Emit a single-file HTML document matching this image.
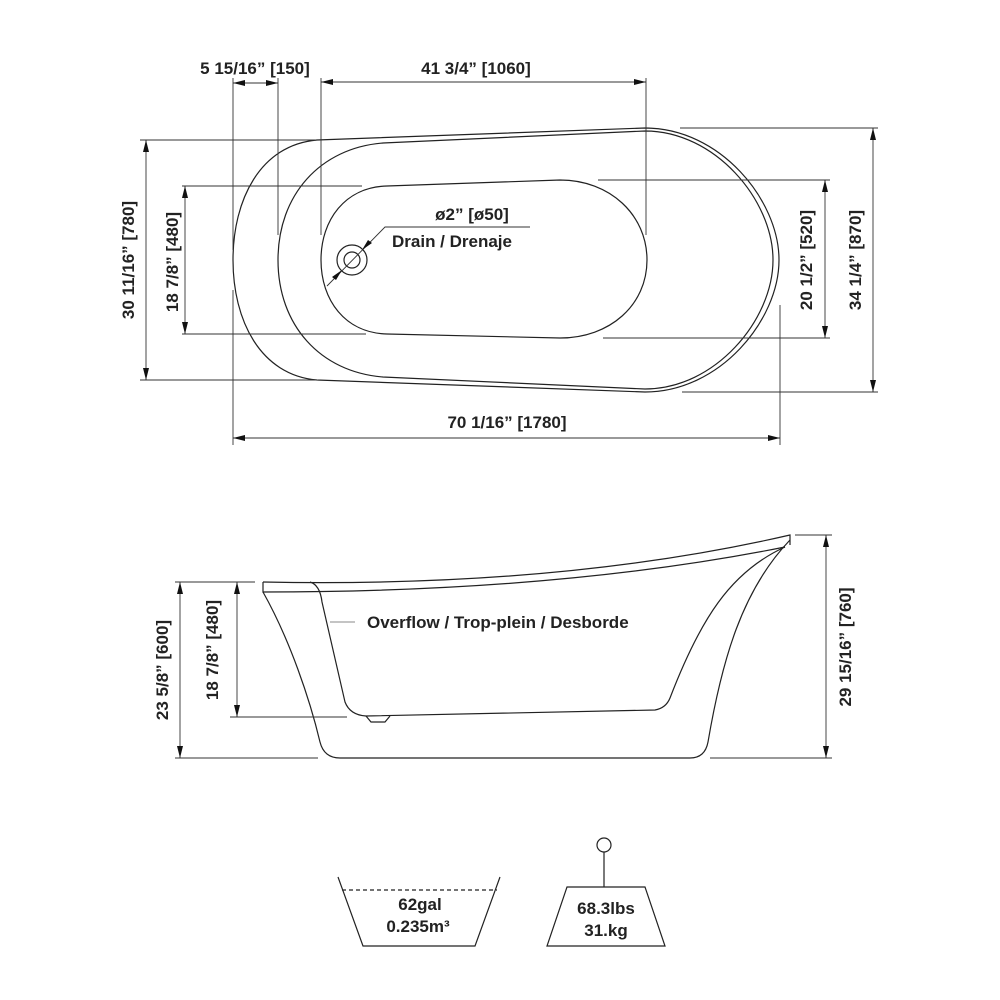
<!DOCTYPE html>
<html><head><meta charset="utf-8"><style>
html,body{margin:0;padding:0;background:#fff;}
svg{display:block;}
text{font-family:"Liberation Sans",Arial,sans-serif;font-weight:bold;font-size:17px;fill:#222;}
</style></head><body>
<svg width="1000" height="1000" viewBox="0 0 1000 1000" xmlns="http://www.w3.org/2000/svg">
<defs>
<marker id="a" viewBox="0 0 12 6" refX="12" refY="3" markerWidth="12" markerHeight="6" markerUnits="userSpaceOnUse" orient="auto-start-reverse">
<path d="M12,3 L0,0 L0,6 Z" fill="#111"/></marker>
</defs>
<g fill="none" stroke="#222" stroke-width="1.2">
<path d="M317,140 L645,128 C720,128 779,200 779,260 C779,320 720,392 645,392 L317,380 C260,375 233,320 233,260 C233,200 260,145 317,140 Z"/>
<path d="M383,143 L645,131 C715,131 773,200 773,260 C773,320 715,389 645,389 L383,377 C320,372 278,325 278,260 C278,195 320,148 383,143 Z"/>
<path d="M387,186 L560,180 C610,180 647,215 647,260 C647,305 610,338 560,338 L387,334 C345,333 321,300 321,260 C321,220 345,187 387,186 Z"/>
<circle cx="352" cy="260" r="15"/><circle cx="352" cy="260" r="8"/>
</g>
<g fill="none" stroke="#333" stroke-width="0.9">
<line x1="233" y1="78" x2="233" y2="250"/><line x1="278" y1="78" x2="278" y2="235"/>
<line x1="321" y1="78" x2="321" y2="235"/><line x1="646" y1="78" x2="646" y2="235"/>
<line x1="140" y1="140" x2="315" y2="140"/><line x1="140" y1="380" x2="318" y2="380"/>
<line x1="182" y1="186" x2="362" y2="186"/><line x1="182" y1="334" x2="366" y2="334"/>
<line x1="233" y1="290" x2="233" y2="445"/><line x1="780" y1="305" x2="780" y2="445"/>
<line x1="598" y1="180" x2="830" y2="180"/><line x1="603" y1="338" x2="830" y2="338"/>
<line x1="680" y1="128" x2="878" y2="128"/><line x1="682" y1="392" x2="878" y2="392"/>
<line x1="233" y1="83" x2="278" y2="83" marker-start="url(#a)" marker-end="url(#a)"/>
<line x1="321" y1="82" x2="646" y2="82" marker-start="url(#a)" marker-end="url(#a)"/>
<line x1="146" y1="140" x2="146" y2="380" marker-start="url(#a)" marker-end="url(#a)"/>
<line x1="185" y1="186" x2="185" y2="334" marker-start="url(#a)" marker-end="url(#a)"/>
<line x1="233" y1="438" x2="780" y2="438" marker-start="url(#a)" marker-end="url(#a)"/>
<line x1="825" y1="180" x2="825" y2="338" marker-start="url(#a)" marker-end="url(#a)"/>
<line x1="873" y1="128" x2="873" y2="392" marker-start="url(#a)" marker-end="url(#a)"/>
<polyline points="327,286 385,227 530,227"/>
</g>
<path d="M362,250 L372,243 L368,240 Z M342,270 L332,277 L336,280 Z" fill="#111"/>
<text x="255" y="74" text-anchor="middle">5 15/16” [150]</text>
<text x="476" y="74" text-anchor="middle">41 3/4” [1060]</text>
<text x="472" y="220" text-anchor="middle">ø2” [ø50]</text>
<text x="452" y="247" text-anchor="middle">Drain / Drenaje</text>
<text x="507" y="428" text-anchor="middle">70 1/16” [1780]</text>
<text transform="translate(134,260) rotate(-90)" text-anchor="middle">30 11/16” [780]</text>
<text transform="translate(178,262) rotate(-90)" text-anchor="middle">18 7/8” [480]</text>
<text transform="translate(812,260) rotate(-90)" text-anchor="middle">20 1/2” [520]</text>
<text transform="translate(861,260) rotate(-90)" text-anchor="middle">34 1/4” [870]</text>
<g fill="none" stroke="#222" stroke-width="1.2">
<path d="M263,582 Q560,588 790,535 L790,545"/>
<path d="M263,582 L263,592 Q560,592 785,547"/>
<path d="M263,592 C290,640 310,700 320,742 Q324,758 340,758 L690,758 Q705,758 708,742 C722,660 742,590 790,540"/>
<path d="M310,582 Q320,585 322,602 L345,702 Q350,715 366,716 L655,710 Q666,708 670,698 C700,620 730,572 785,547"/>
<path d="M366,716 L371,722 L385,722 L390,716"/>
</g>
<g fill="none" stroke="#333" stroke-width="0.9">
<line x1="175" y1="582" x2="255" y2="582"/><line x1="175" y1="758" x2="318" y2="758"/>
<line x1="230" y1="717" x2="347" y2="717"/>
<line x1="795" y1="535" x2="832" y2="535"/><line x1="710" y1="758" x2="832" y2="758"/>
<line x1="180" y1="582" x2="180" y2="758" marker-start="url(#a)" marker-end="url(#a)"/>
<line x1="237" y1="582" x2="237" y2="717" marker-start="url(#a)" marker-end="url(#a)"/>
<line x1="826" y1="535" x2="826" y2="758" marker-start="url(#a)" marker-end="url(#a)"/>
<line x1="330" y1="622" x2="355" y2="622" stroke="#888"/>
</g>
<text x="367" y="628">Overflow / Trop-plein / Desborde</text>
<text transform="translate(168,670) rotate(-90)" text-anchor="middle">23 5/8” [600]</text>
<text transform="translate(218,650) rotate(-90)" text-anchor="middle">18 7/8” [480]</text>
<text transform="translate(851,647) rotate(-90)" text-anchor="middle">29 15/16” [760]</text>
<g fill="none" stroke="#222" stroke-width="1.2">
<polyline points="338,877 363,946 475,946 500,877"/>
<line x1="342" y1="890" x2="497" y2="890" stroke-dasharray="4,3"/>
<circle cx="604" cy="845" r="7"/>
<line x1="604" y1="852" x2="604" y2="887"/>
<polygon points="567,887 645,887 665,946 547,946"/>
</g>
<text x="420" y="910" text-anchor="middle">62gal</text>
<text x="418" y="932" text-anchor="middle">0.235m³</text>
<text x="606" y="914" text-anchor="middle">68.3lbs</text>
<text x="606" y="936" text-anchor="middle">31.kg</text>
</svg>
</body></html>
